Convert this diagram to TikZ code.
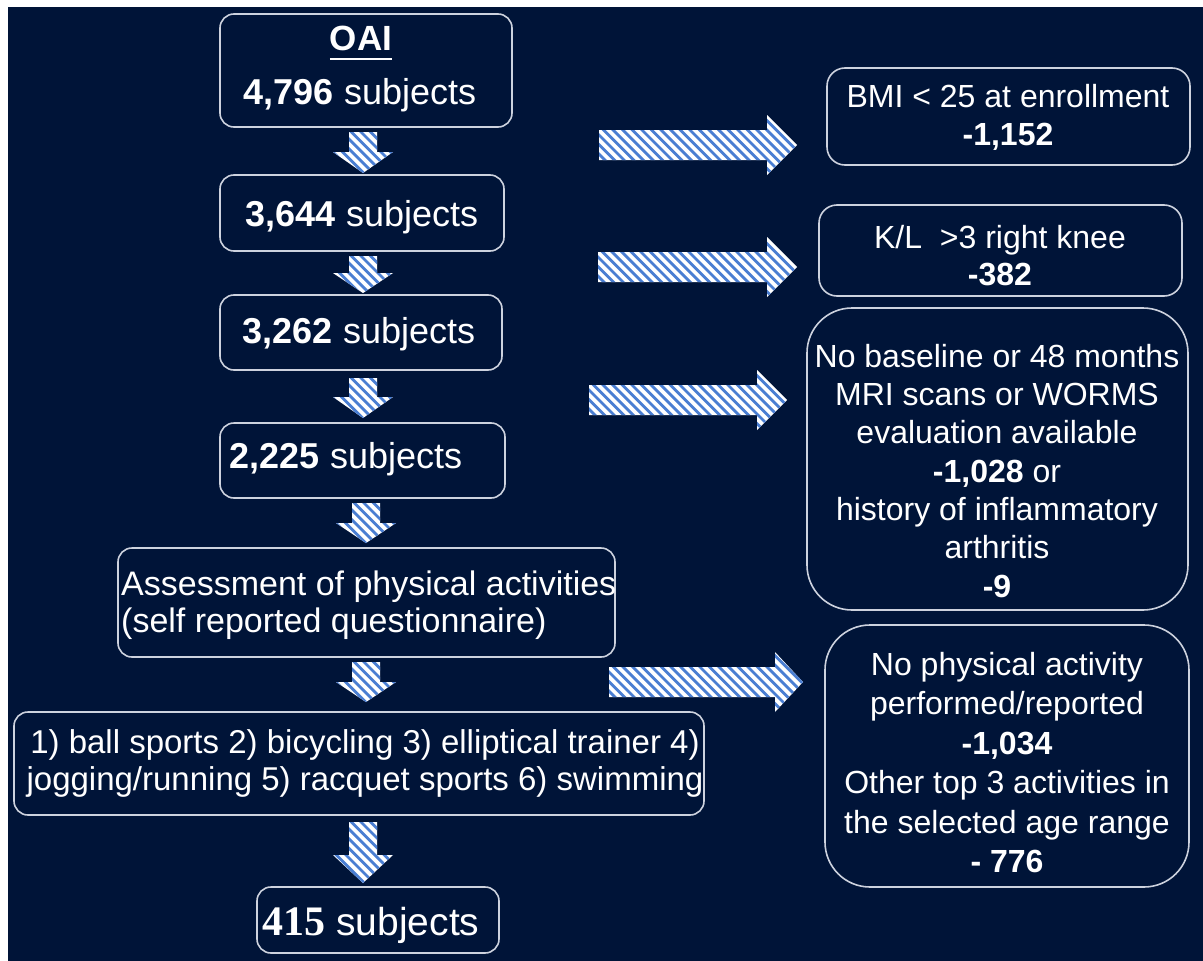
\documentclass[tikz,border=0pt]{standalone}
\usepackage{fontspec}
\setmainfont{Liberation Sans}
\newfontfamily\numserif{Liberation Serif}

\definecolor{navy}{RGB}{0,20,56}
\definecolor{edgegray}{RGB}{205,210,222}
\definecolor{hatchblue}{RGB}{74,126,210}

\newcommand\fsz[2]{\fontsize{#1pt}{#2pt}\selectfont}
\newcommand\ulbold[1]{{\setbox0\hbox{\bfseries #1}\rlap{\rule[-10pt]{\wd0}{2.4pt}}\box0}}

\begin{document}
\begin{tikzpicture}[x=1pt,y=-1pt,
  box/.style={draw=edgegray, line width=1.6pt, fill=navy, inner sep=0pt},
  smallbox/.style={box, rounded corners=14pt},
  sidebox/.style={box, rounded corners=18pt},
  bigbox/.style={box, rounded corners=45pt},
  txt/.style={text=white, inner sep=0pt, align=center},
  stripe/.style={draw=hatchblue, line width=2.8pt},
]
% page and background
\fill[white] (0,0) rectangle (1203,961);
\fill[navy] (8,7) rectangle (1203,961);
\useasboundingbox (0,0) rectangle (1203,961);

% main column boxes
\node[smallbox, minimum width=292, minimum height=113] (oai) at (366,70.5) {};
\node[smallbox, minimum width=284, minimum height=76] (s3644) at (362,213) {};
\node[smallbox, minimum width=282, minimum height=75] (s3262) at (361,332.5) {};
\node[smallbox, minimum width=285, minimum height=75] (s2225) at (362.5,460.5) {};
\node[smallbox, minimum width=497, minimum height=109] (assess) at (366.5,602.5) {};
\node[smallbox, minimum width=690, minimum height=103] (acts) at (359,763.5) {};
\node[smallbox, minimum width=242, minimum height=66] (final) at (378,920) {};

% exclusion boxes
\node[sidebox, minimum width=363, minimum height=97] (bmi) at (1008.5,116.5) {};
\node[sidebox, minimum width=363, minimum height=91] (kl) at (1000.5,250.5) {};
\node[bigbox, minimum width=381, minimum height=302] (mri) at (997.5,459) {};
\node[bigbox, minimum width=364, minimum height=262] (noact) at (1007,756) {};

% texts of the main column
\node[txt, anchor=base, font=\fsz{35}{40}] (oai-h) at (361,50) {\ulbold{OAI}};
\node[txt, anchor=base, font=\fsz{36}{40}] (oai-t) at (360,104) {\textbf{4,796} subjects};
\node[txt, anchor=base, font=\fsz{36}{40}] (s3644-t) at (362,226) {\textbf{3,644} subjects};
\node[txt, anchor=base, font=\fsz{36}{40}] (s3262-t) at (359,343) {\textbf{3,262} subjects};
\node[txt, anchor=base, font=\fsz{36}{40}] (s2225-t) at (346,468) {\textbf{2,225} subjects};
\node[txt, align=left, anchor=north west, font=\fsz{34}{37}] (assess-t) at (121,570.5)
  {Assessment of physical activities\\(self reported questionnaire)};
\node[txt, anchor=north, font=\fsz{33}{37}] (acts-t) at (365,729.5)
  {1) ball sports 2) bicycling 3) elliptical trainer 4)\\jogging/running 5) racquet sports 6) swimming};
\node[txt, anchor=base] (final-t) at (371,935)
  {{\numserif\bfseries\fsz{42}{44}415}{\fsz{39}{44}\ subjects}};

% texts of the exclusion boxes
\node[txt, anchor=north, font=\fsz{32}{38}] (bmi-t) at (1008,84)
  {BMI < 25 at enrollment\\\textbf{-1,152}};
\node[txt, anchor=north, font=\fsz{32}{37}] (kl-t) at (1000,225)
  {K/L~~>3 right knee\\\textbf{-382}};
\node[txt, anchor=north, font=\fsz{32}{38.3}] (mri-t) at (997,344)
  {No baseline or 48 months\\MRI scans or WORMS\\evaluation available\\\textbf{-1,028} or\\history of inflammatory\\arthritis\\\textbf{-9}};
\node[txt, anchor=north, font=\fsz{32}{39.5}] (noact-t) at (1007,652)
  {No physical activity\\performed/reported\\\textbf{-1,034}\\Other top 3 activities in\\the selected age range\\\textbf{- 776}};

% hatched block arrows pointing down the main column
\foreach \cx/\ty/\hy/\by in {363/132/152/173, 363/256/273/293, 363/378/397/418,
    366/503/523/543, 366/662/682/702, 363/822/855/883}{
  \begin{scope}
    \clip (\cx-14,\ty) -- (\cx+14,\ty) -- (\cx+14,\hy) -- (\cx+30,\hy)
      -- (\cx,\by) -- (\cx-30,\hy) -- (\cx-14,\hy) -- cycle;
    \fill[white] (\cx-32,\ty-2) rectangle (\cx+32,\by+2);
    \foreach \k in {0,...,14}
      \draw[stripe] (\cx-100+\k*9.6,\ty-2) -- ++(70,70);
  \end{scope}
}

% hatched block arrows pointing to the exclusion boxes
\foreach \sx/\hx/\tx/\cy in {599/767/797/145, 598/767/797/267,
    589/757/787/400, 609/775/803/682}{
  \begin{scope}
    \clip (\sx,\cy-15) -- (\hx,\cy-15) -- (\hx,\cy-30) -- (\tx,\cy)
      -- (\hx,\cy+30) -- (\hx,\cy+15) -- (\sx,\cy+15) -- cycle;
    \fill[white] (\sx-2,\cy-32) rectangle (\tx+2,\cy+32);
    \foreach \k in {0,...,30}
      \draw[stripe] (\sx-70+\k*9.6,\cy-32) -- ++(66,66);
  \end{scope}
}
\end{tikzpicture}
\end{document}
